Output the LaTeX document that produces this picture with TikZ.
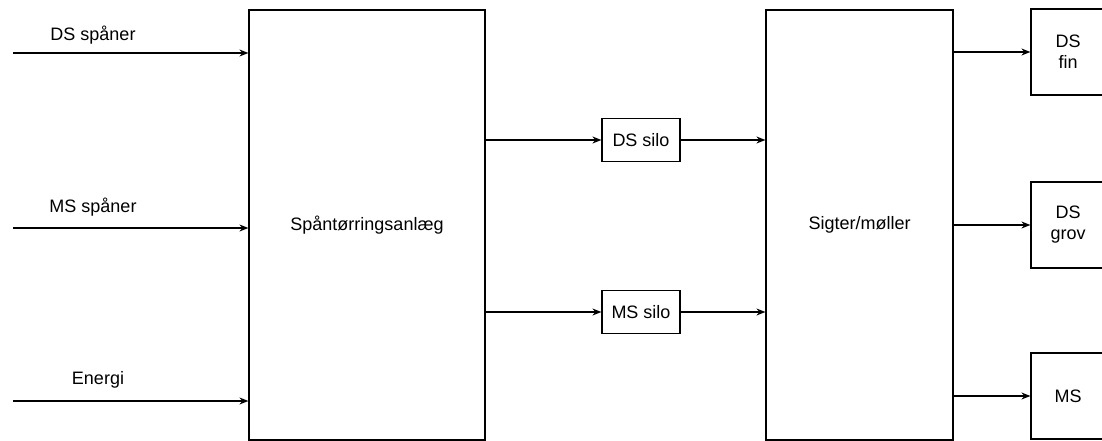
\documentclass[tikz,border=0pt]{standalone}
\usepackage{fontspec}
\setmainfont{Liberation Sans}
\usetikzlibrary{arrows.meta,positioning}

\begin{document}
\begin{tikzpicture}[x=1pt, y=-1pt,
  unit/.style={draw, line width=1.2pt, inner sep=0pt, align=center, font=\fontsize{18}{21}\selectfont},
  arrow/.style={-{Stealth[length=9pt, width=7pt]}, line width=1.2pt},
  flowtext/.style={font=\fontsize{18}{21}\selectfont},
]

\useasboundingbox (0,0) rectangle (1102,441);
\clip (0,0) rectangle (1102,441);

% main units
\node[unit, minimum width=236, minimum height=430] (dryer) at (367,225) {Spåntørringsanlæg};
\node[unit, minimum width=187, minimum height=430] (sifter) at (859.5,225) {Sigter/møller};

% silos
\node[unit, minimum width=78, minimum height=43] (dssilo) at (641,140) {DS silo};
\node[unit, minimum width=78, minimum height=43] (mssilo) at (641,312) {MS silo};

% products
\node[unit, minimum width=74, minimum height=86] (dsfin) at (1068,52) {DS\\fin};
\node[unit, minimum width=74, minimum height=86] (dsgrov) at (1068,225) {DS\\grov};
\node[unit, minimum width=74, minimum height=86] (msout) at (1068,396) {MS};

% inputs
\coordinate (dsin) at (13,53);
\coordinate (msin) at (13,228);
\coordinate (enin) at (13,401);
\node[flowtext] (dslbl) at (93,35) {DS spåner};
\node[flowtext] (mslbl) at (93,207) {MS spåner};
\node[flowtext] (enlbl) at (98,380) {Energi};

\draw[arrow] (dsin) -- (dsin -| dryer.west);
\draw[arrow] (msin) -- (msin -| dryer.west);
\draw[arrow] (enin) -- (enin -| dryer.west);

\draw[arrow] (dryer.east |- dssilo) -- (dssilo);
\draw[arrow] (dryer.east |- mssilo) -- (mssilo);
\draw[arrow] (dssilo) -- (dssilo -| sifter.west);
\draw[arrow] (mssilo) -- (mssilo -| sifter.west);

\draw[arrow] (sifter.east |- dsfin) -- (dsfin);
\draw[arrow] (sifter.east |- dsgrov) -- (dsgrov);
\draw[arrow] (sifter.east |- msout) -- (msout);

\end{tikzpicture}
\end{document}
